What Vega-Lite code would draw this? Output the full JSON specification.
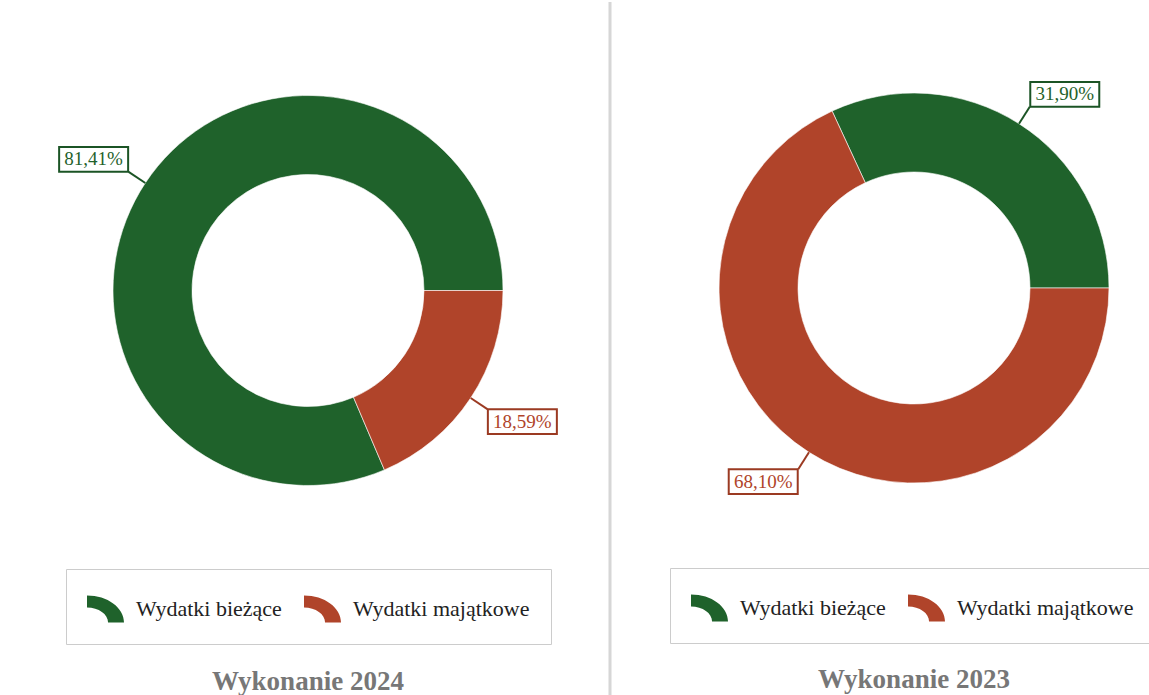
{
  "$schema": "https://vega.github.io/schema/vega-lite/v6.json",
  "background": "white",
  "padding": {"left": 8, "top": 0, "right": 0, "bottom": 0},
  "spacing": 6,
  "bounds": "flush",
  "config": {"view": {"stroke": null}, "font": "Liberation Serif"},
  "resolve": {"legend": {"color": "independent"}, "scale": {"x": "independent", "y": "independent"}},
  "hconcat": [
    {
      "width": 600,
      "height": 695,
      "title": {"text": "Wykonanie 2024", "orient": "bottom", "frame": "group", "offset": -30, "font": "Liberation Serif", "fontSize": 27, "fontWeight": "bold", "color": "#777777", "anchor": "middle"},
      "data": {"values": [
        {"kat": "Wydatki bieżące", "pct": 81.41, "ord": 2},
        {"kat": "Wydatki majątkowe", "pct": 18.59, "ord": 1}
      ]},
      "transform": [
        {"window": [{"op": "sum", "field": "pct", "as": "cum"}], "sort": [{"field": "ord"}], "frame": [null, 0]},
        {"calculate": "PI/2 + 2*PI*(datum.cum - datum.pct/2)/100", "as": "ang"},
        {"calculate": "0", "as": "cx"},
        {"calculate": "195*sin(datum.ang)", "as": "lxa"},
        {"calculate": "-195*cos(datum.ang)", "as": "lya"},
        {"calculate": "215*sin(datum.ang)", "as": "lxb"},
        {"calculate": "-215*cos(datum.ang)", "as": "lyb"},
        {"calculate": "datum.lxb + (sin(datum.ang) > 0 ? 35 : -35)", "as": "bx"},
        {"calculate": "datum.lyb + (-cos(datum.ang) > 0 ? 12.5 : -12.5)", "as": "by"},
        {"calculate": "replace(format(datum.pct, '.2f'), '.', ',') + '%'", "as": "label"}
      ],
      "layer": [
        {
          "mark": {"type": "arc", "outerRadius": 195, "innerRadius": 116, "stroke": "#ffffff", "strokeWidth": 0.6},
          "encoding": {
            "x": {"field": "cx", "type": "quantitative", "scale": {"domain": [-300, 300], "nice": false, "zero": false}, "axis": null},
            "y": {"field": "cx", "type": "quantitative", "scale": {"domain": [-288.5, 406.5], "reverse": true, "nice": false, "zero": false}, "axis": null},
            "theta": {"field": "pct", "type": "quantitative", "stack": true, "scale": {"range": [1.5707963, 7.8539816]}},
            "order": {"field": "ord", "type": "quantitative"},
            "color": {
              "field": "kat", "type": "nominal",
              "scale": {"domain": ["Wydatki bieżące", "Wydatki majątkowe"], "range": ["#1f622b", "#b0442a"]},
              "legend": {"orient": "none", "legendX": 58, "legendY": 567, "direction": "horizontal", "title": null,
                "symbolType": "M-1,-0.73A2,1.46 0 0 1 1,0.73L0.14,0.73A1.14,0.81 0 0 0 -1,-0.08Z",
                "symbolSize": 1369, "symbolStrokeWidth": 0, "symbolOpacity": 1,
                "labelFont": "Liberation Serif", "labelFontSize": 22, "labelColor": "#222222", "labelOffset": 12, "labelLimit": 400,
                "columnPadding": 22, "padding": 21, "strokeColor": "#cccccc", "fillColor": "#ffffff"}
            }
          }
        },
        {
          "mark": {"type": "rule", "strokeWidth": 2},
          "encoding": {
            "x": {"field": "lxa", "type": "quantitative"},
            "y": {"field": "lya", "type": "quantitative"},
            "x2": {"field": "lxb"},
            "y2": {"field": "lyb"},
            "stroke": {"field": "kat", "type": "nominal", "scale": {"domain": ["Wydatki bieżące", "Wydatki majątkowe"], "range": ["#1b5425", "#9b3a22"]}, "legend": null}
          }
        },
        {
          "mark": {"type": "point", "shape": "M-1,-0.36H1V0.36H-1Z", "size": 4761, "filled": true, "fill": "#ffffff", "strokeWidth": 2, "opacity": 1},
          "encoding": {
            "x": {"field": "bx", "type": "quantitative"},
            "y": {"field": "by", "type": "quantitative"},
            "stroke": {"field": "kat", "type": "nominal", "scale": {"domain": ["Wydatki bieżące", "Wydatki majątkowe"], "range": ["#1b5425", "#9b3a22"]}, "legend": null}
          }
        },
        {
          "mark": {"type": "text", "fontSize": 19, "font": "Liberation Serif", "baseline": "middle", "align": "center"},
          "encoding": {
            "x": {"field": "bx", "type": "quantitative"},
            "y": {"field": "by", "type": "quantitative"},
            "text": {"field": "label", "type": "nominal"},
            "color": {"field": "kat", "type": "nominal", "legend": null}
          }
        },
        {
          "data": {"values": [{"pos": 302}]},
          "mark": {"type": "rule", "color": "#d6d6d6", "strokeWidth": 3},
          "encoding": {"x": {"field": "pos", "type": "quantitative"}}
        }
      ]
    },
    {
      "width": 600,
      "height": 695,
      "title": {"text": "Wykonanie 2023", "orient": "bottom", "frame": "group", "offset": -30, "font": "Liberation Serif", "fontSize": 27, "fontWeight": "bold", "color": "#777777", "anchor": "middle"},
      "data": {"values": [
        {"kat": "Wydatki bieżące", "pct": 31.90, "ord": 2},
        {"kat": "Wydatki majątkowe", "pct": 68.10, "ord": 1}
      ]},
      "transform": [
        {"window": [{"op": "sum", "field": "pct", "as": "cum"}], "sort": [{"field": "ord"}], "frame": [null, 0]},
        {"calculate": "PI/2 + 2*PI*(datum.cum - datum.pct/2)/100", "as": "ang"},
        {"calculate": "0", "as": "cx"},
        {"calculate": "195*sin(datum.ang)", "as": "lxa"},
        {"calculate": "-195*cos(datum.ang)", "as": "lya"},
        {"calculate": "215*sin(datum.ang)", "as": "lxb"},
        {"calculate": "-215*cos(datum.ang)", "as": "lyb"},
        {"calculate": "datum.lxb + (sin(datum.ang) > 0 ? 35 : -35)", "as": "bx"},
        {"calculate": "datum.lyb + (-cos(datum.ang) > 0 ? 12.5 : -12.5)", "as": "by"},
        {"calculate": "replace(format(datum.pct, '.2f'), '.', ',') + '%'", "as": "label"}
      ],
      "layer": [
        {
          "mark": {"type": "arc", "outerRadius": 195, "innerRadius": 116, "stroke": "#ffffff", "strokeWidth": 0.6},
          "encoding": {
            "x": {"field": "cx", "type": "quantitative", "scale": {"domain": [-300, 300], "nice": false, "zero": false}, "axis": null},
            "y": {"field": "cx", "type": "quantitative", "scale": {"domain": [-286, 409], "reverse": true, "nice": false, "zero": false}, "axis": null},
            "theta": {"field": "pct", "type": "quantitative", "stack": true, "scale": {"range": [1.5707963, 7.8539816]}},
            "order": {"field": "ord", "type": "quantitative"},
            "color": {
              "field": "kat", "type": "nominal",
              "scale": {"domain": ["Wydatki bieżące", "Wydatki majątkowe"], "range": ["#1f622b", "#b0442a"]},
              "legend": {"orient": "none", "legendX": 56, "legendY": 566, "direction": "horizontal", "title": null,
                "symbolType": "M-1,-0.73A2,1.46 0 0 1 1,0.73L0.14,0.73A1.14,0.81 0 0 0 -1,-0.08Z",
                "symbolSize": 1369, "symbolStrokeWidth": 0, "symbolOpacity": 1,
                "labelFont": "Liberation Serif", "labelFontSize": 22, "labelColor": "#222222", "labelOffset": 12, "labelLimit": 400,
                "columnPadding": 22, "padding": 21, "strokeColor": "#cccccc", "fillColor": "#ffffff"}
            }
          }
        },
        {
          "mark": {"type": "rule", "strokeWidth": 2},
          "encoding": {
            "x": {"field": "lxa", "type": "quantitative"},
            "y": {"field": "lya", "type": "quantitative"},
            "x2": {"field": "lxb"},
            "y2": {"field": "lyb"},
            "stroke": {"field": "kat", "type": "nominal", "scale": {"domain": ["Wydatki bieżące", "Wydatki majątkowe"], "range": ["#1b5425", "#9b3a22"]}, "legend": null}
          }
        },
        {
          "mark": {"type": "point", "shape": "M-1,-0.36H1V0.36H-1Z", "size": 4761, "filled": true, "fill": "#ffffff", "strokeWidth": 2, "opacity": 1},
          "encoding": {
            "x": {"field": "bx", "type": "quantitative"},
            "y": {"field": "by", "type": "quantitative"},
            "stroke": {"field": "kat", "type": "nominal", "scale": {"domain": ["Wydatki bieżące", "Wydatki majątkowe"], "range": ["#1b5425", "#9b3a22"]}, "legend": null}
          }
        },
        {
          "mark": {"type": "text", "fontSize": 19, "font": "Liberation Serif", "baseline": "middle", "align": "center"},
          "encoding": {
            "x": {"field": "bx", "type": "quantitative"},
            "y": {"field": "by", "type": "quantitative"},
            "text": {"field": "label", "type": "nominal"},
            "color": {"field": "kat", "type": "nominal", "legend": null}
          }
        }
      ]
    }
  ]
}
